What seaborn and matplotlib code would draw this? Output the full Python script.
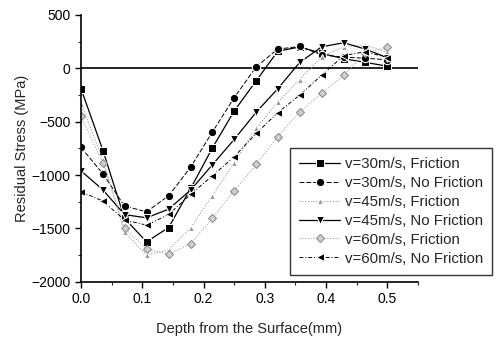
import numpy as np
import pandas as pd
import matplotlib
matplotlib.use("Agg")
import matplotlib.pyplot as plt
import seaborn as sns
from matplotlib.ticker import MultipleLocator

# depth positions (mm)
depth = [0.0, 0.036, 0.071, 0.107, 0.143, 0.179, 0.214, 0.25,
         0.286, 0.321, 0.357, 0.393, 0.429, 0.464, 0.5]

# residual stress (MPa)
s30_fric = [-190, -772, -1405, -1625, -1491, -1125, -750, -400,
            -116, 160, 200, 140, 90, 56, 20]
s30_nofric = [-740, -990, -1290, -1344, -1194, -925, -600, -275,
              15, 180, 205, 125, 105, 95, 80]
s45_fric = [-330, -860, -1530, -1750, -1700, -1494, -1194, -885,
            -562, -317, -105, 110, 200, 218, 150]
s45_nofric = [-960, -1140, -1370, -1400, -1319, -1140, -906, -666,
              -410, -192, 56, 202, 240, 180, 100]
s60_fric = [-450, -890, -1500, -1690, -1740, -1641, -1406, -1147,
            -900, -641, -406, -234, -63, 140, 197]
s60_nofric = [-1156, -1244, -1420, -1469, -1369, -1180, -1009, -828,
              -609, -416, -250, -63, 120, 156, 100]

labels = ["v=30m/s, Friction", "v=30m/s, No Friction", "v=45m/s, Friction",
          "v=45m/s, No Friction", "v=60m/s, Friction", "v=60m/s, No Friction"]
series = [s30_fric, s30_nofric, s45_fric, s45_nofric, s60_fric, s60_nofric]

styles = [
    dict(color="black", marker="s", linestyle="-", markersize=6, lw=0.9),
    dict(color="black", marker="o", linestyle=(0, (5, 2)), markersize=6, lw=0.7),
    dict(color="#9a9a9a", marker="^", linestyle=(0, (1, 1.5)), markersize=5, lw=0.8),
    dict(color="black", marker="v", linestyle="-", markersize=6, lw=0.9),
    dict(color="#a8a8a8", marker="D", linestyle=(0, (1, 1.5)), markersize=4.5, lw=0.8,
         markerfacecolor="#d0d0d0", markeredgecolor="#8a8a8a"),
    dict(color="black", marker="<", linestyle=(0, (4, 2, 1, 2)), markersize=6, lw=0.7),
]

sns.set_style("ticks")
plt.rcParams["font.family"] = ["Liberation Sans", "DejaVu Sans"]

fig = plt.figure(figsize=(5, 3.4), dpi=100)
ax = fig.add_axes([0.162, 0.171, 0.674, 0.785])

for vals, lab, st in zip(series, labels, styles):
    df = pd.DataFrame({"depth": depth, "stress": vals})
    sns.lineplot(data=df, x="depth", y="stress", ax=ax, label=lab, **st)

ax.axhline(0, color="black", lw=1.2, zorder=0)

ax.set_xlim(0, 0.55)
ax.set_ylim(-2000, 500)
ax.set_xticks([0.0, 0.1, 0.2, 0.3, 0.4, 0.5])
ax.set_yticks([500, 0, -500, -1000, -1500, -2000])
ax.xaxis.set_minor_locator(MultipleLocator(0.05))
ax.yaxis.set_minor_locator(MultipleLocator(250))
ax.tick_params(which="major", direction="out", length=4, width=1, labelsize=10, colors="black")
ax.tick_params(which="minor", direction="out", length=2.5, width=0.8)

for side in ["top", "right"]:
    ax.spines[side].set_visible(False)
for side in ["left", "bottom"]:
    ax.spines[side].set_linewidth(1.2)
    ax.spines[side].set_color("black")

ax.set_xlabel("Depth from the Surface(mm)", fontsize=10.5, labelpad=11)
ax.set_ylabel("Residual Stress (MPa)", fontsize=10.5, labelpad=2)

leg = ax.legend(loc="upper left", bbox_to_anchor=(0.599, 0.53), fontsize=10.8,
                frameon=True, fancybox=False, handlelength=2.7, labelspacing=0.33,
                borderpad=0.6, handletextpad=0.35)
leg.get_frame().set_edgecolor("black")
leg.get_frame().set_linewidth(1.0)

fig.savefig("out.png", dpi=100)
